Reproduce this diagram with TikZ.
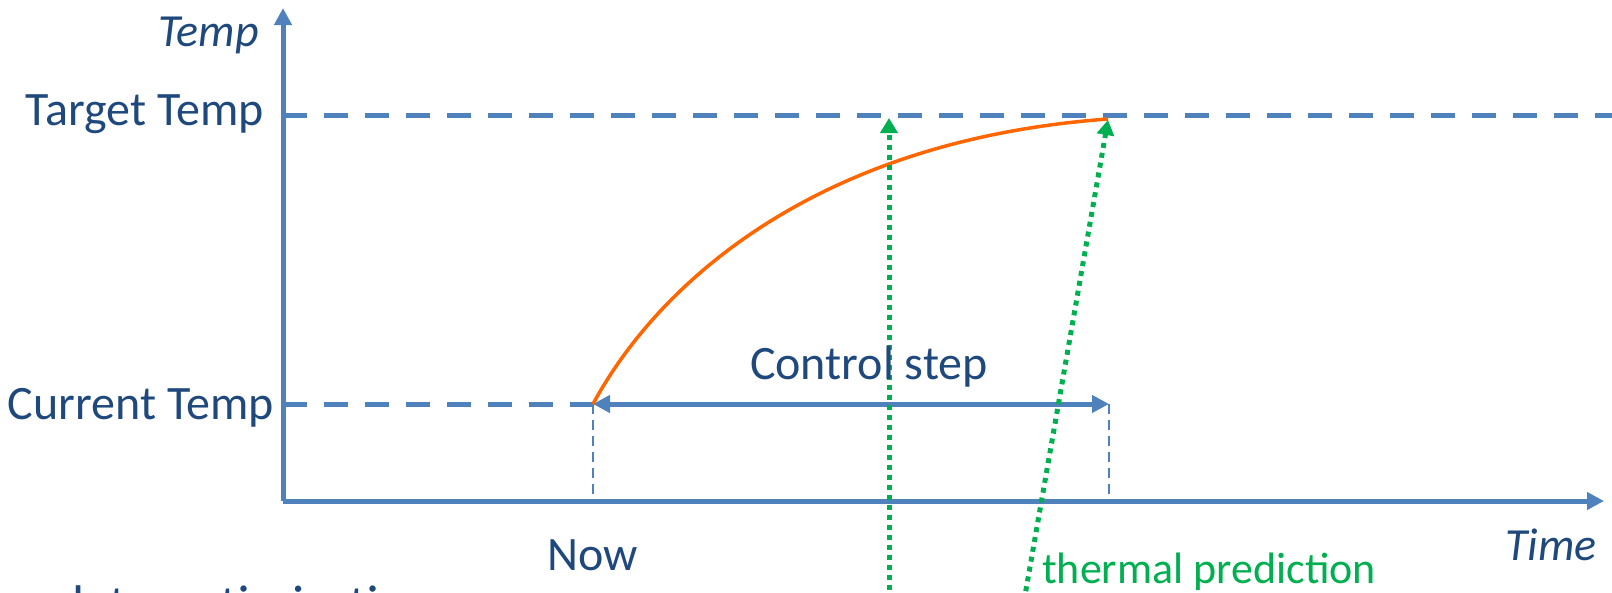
\documentclass[tikz,border=0pt]{standalone}
\usepackage{fontspec}
\setmainfont{Carlito}
\usetikzlibrary{arrows.meta}
\definecolor{txtblue}{HTML}{1F497D}
\definecolor{axblue}{HTML}{4F81BD}
\definecolor{curveor}{HTML}{FF6600}
\definecolor{grn}{HTML}{00B050}
\tikzset{
  axis/.style={draw=axblue, line width=5pt, -{Triangle[length=17pt,width=17pt]}},
  guide/.style={draw=axblue, line width=5pt, dash pattern=on 24pt off 17pt},
  tick/.style={draw=axblue, line width=2pt, dash pattern=on 10pt off 6pt},
  span/.style={draw=axblue, line width=5pt, {Triangle[length=17pt,width=17pt]}-{Triangle[length=17pt,width=17pt]}},
  greenarrow/.style={draw=grn, line width=5pt, dash pattern=on 5pt off 5pt, -{Triangle[length=15pt,width=17pt]}},
  lbl/.style={text=txtblue, font=\fontsize{48}{52}\selectfont, inner sep=0pt},
  ilbl/.style={lbl, font=\fontsize{46}{50}\selectfont\itshape},
}
\begin{document}
\begin{tikzpicture}[x=1pt,y=-1pt]
\useasboundingbox (0,0) rectangle (1612,592);
\clip (0,0) rectangle (1612,592);
% key coordinates
\coordinate (O) at (283,501);
\coordinate (ytop) at (283,8);
\coordinate (xend) at (1604,501);
\coordinate (ct) at (283,404);
\coordinate (now) at (593,404);
\coordinate (nowb) at (593,501);
\coordinate (tt) at (283,115);
\coordinate (ttend) at (1612,115);
\coordinate (end) at (1109,404);
\coordinate (endb) at (1109,501);
\coordinate (peak) at (1108,119);
\coordinate (g1s) at (889,640);
\coordinate (g1e) at (889,118);
\coordinate (g2s) at (1012,670);
\coordinate (g2e) at (1108,120);
% guides
\draw[guide] (tt) -- (ttend);
\draw[guide] (ct) -- (now);
\draw[tick] (now) -- (nowb);
\draw[tick] (end) -- (endb);
% axes
\draw[axis] (O) -- (ytop);
\draw[axis] (O) -- (xend);
% control step span
\draw[span] (now) -- (end);
% curve
\draw[curveor, line width=3.5pt] (now) .. controls (660,280) and (820,140) .. (peak);
% green arrows
\draw[greenarrow] (g1s) -- (g1e);
\draw[greenarrow] (g2s) -- (g2e);
% labels
\node[ilbl, anchor=base east] (temp) at (259,46) {Temp};
\node[lbl, anchor=base east] (target) at (264,125) {Target Temp};
\node[lbl, anchor=base east] (current) at (274,419) {Current Temp};
\node[lbl, anchor=base] (nowlbl) at (593,570) {Now};
\node[lbl, anchor=base] (ctrl) at (869,379) {Control step};
\node[ilbl, anchor=base east] (time) at (1597,560) {Time};
\node[lbl, font=\fontsize{44}{48}\selectfont, text=grn, anchor=base west] (thermal) at (1042,583) {thermal prediction};
\node[lbl, font=\fontsize{53}{58}\selectfont, anchor=base west] (opt) at (72,622) {late optimization};
\end{tikzpicture}
\end{document}
